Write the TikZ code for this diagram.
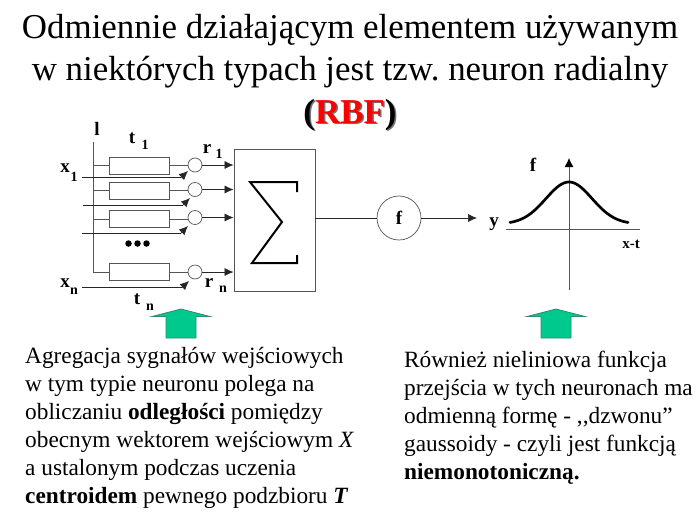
\documentclass[tikz,border=0pt]{standalone}
\usepackage{fontspec}
\setmainfont{Liberation Serif}
\usetikzlibrary{arrows.meta,calc}
\definecolor{arrowgreen}{HTML}{00C98D}
\definecolor{arrowedge}{HTML}{2E8B70}
\definecolor{linegray}{HTML}{555555}
\tikzset{
  x=1pt,y=-1pt,
  titletext/.style={anchor=base,inner sep=0pt,font=\fontsize{34.9}{35}\selectfont},
  bodytext/.style={anchor=base west,inner sep=0pt,font=\fontsize{23.3}{24}\selectfont},
  symb/.style={anchor=base,inner sep=0pt,font=\fontsize{19}{19}\selectfont\bfseries},
  sub/.style={anchor=base,inner sep=0pt,font=\fontsize{14}{14}\selectfont\bfseries},
  wbox/.style={draw=linegray,line width=0.8pt,minimum width=60pt,minimum height=17pt,inner sep=0pt},
  rcirc/.style={draw=linegray,line width=0.7pt,circle,minimum size=14pt,inner sep=0pt},
  wire/.style={draw=black!85,line width=0.7pt},
  graywire/.style={draw=linegray,line width=0.9pt},
  tip/.style={-{Latex[length=9pt,width=8pt]}},
  bigarrow/.style={draw=arrowedge,fill=arrowgreen,line width=0.8pt},
}
\frenchspacing
\begin{document}
\begin{tikzpicture}
\useasboundingbox (0,0) rectangle (700,525);
\fill[white] (0,0) rectangle (700,525);
% title
\node[titletext] (t1) at (350,38) {Odmiennie działającym elementem używanym};
\node[titletext] (t2) at (350,80) {w niektórych typach jest tzw. neuron radialny};
\node[titletext,black!55,font=\fontsize{34.9}{35}\selectfont\bfseries] (t3s) at (351.5,124.5) {(RBF)};
\node[titletext,font=\fontsize{34.9}{35}\selectfont\bfseries] (t3) at (350,123) {(\textcolor{red}{RBF})};
% bus
\coordinate (bustop) at (93,142);
\coordinate (busbot) at (93,272);
\draw[graywire] (bustop) -- (busbot);
% weight boxes
\node[wbox] (b1) at (139,165.5) {};
\node[wbox] (b2) at (139,190.5) {};
\node[wbox] (b3) at (139,219) {};
\node[wbox] (b4) at (139,272) {};
% comparators
\node[rcirc] (c1) at (195,165) {};
\node[rcirc] (c2) at (195,189.5) {};
\node[rcirc] (c3) at (195,217.5) {};
\node[rcirc] (c4) at (195,272) {};
% sum
\node[draw=linegray,line width=0.8pt,minimum width=81pt,minimum height=142pt,inner sep=0pt] (sum) at (274.5,220) {};
\draw[line width=2pt,miter limit=10] (297,192) -- (297,182) -- (250,182) -- (282,222) -- (252,263) -- (297,263) -- (297,255);
% bus taps and box outputs
\foreach \b/\c in {b1/c1,b2/c2,b3/c3,b4/c4}{
  \draw[graywire] (\b.west) -- (\b.west -| bustop);
  \draw[graywire] (\b.east) -- (\c.west |- \b.east);
}
% outputs to sum
\foreach \c in {c1,c2,c3,c4}{
  \draw[wire,tip] (\c.east) -- (\c.east -| sum.west);
}
% inputs
\coordinate (i1) at (82,177.5); \coordinate (e1) at (181,177.5); \coordinate (h1) at (188,171);
\coordinate (i2) at (83,205); \coordinate (e2) at (183,205); \coordinate (h2) at (190,198);
\coordinate (i3) at (82,233); \coordinate (e3) at (181,233); \coordinate (h3) at (188,226);
\coordinate (i4) at (82,287.5); \coordinate (e4) at (182,287.5); \coordinate (h4) at (189,281);
\foreach \n in {1,2,3,4}{
  \draw[wire] (i\n) -- (e\n);
  \draw[wire,tip] (e\n) -- (h\n);
}
% dots
\node[circle,fill=black,inner sep=0pt,minimum size=6.5pt] (d1) at (128.5,243.5) {};
\node[circle,fill=black,inner sep=0pt,minimum size=6.5pt] (d2) at (137.5,243.5) {};
\node[circle,fill=black,inner sep=0pt,minimum size=6.5pt] (d3) at (146.5,243.5) {};
% labels
\node[symb] (l1) at (97,135) {l};
\node[symb] (lt1) at (132,143) {t};
\node[sub] (lt1s) at (145,149) {1};
\node[symb] (lr1) at (207,153) {r};
\node[sub] (lr1s) at (219,158) {1};
\node[symb] (lx1) at (65,172) {x};
\node[sub] (lx1s) at (74,181) {1};
\node[symb] (lxn) at (65,287) {x};
\node[sub] (lxns) at (74,294) {n};
\node[symb] (lrn) at (209,287) {r};
\node[sub] (lrns) at (223,292) {n};
\node[symb] (ltn) at (137,304) {t};
\node[sub] (ltns) at (150,310) {n};
% activation
\node[draw=linegray,line width=0.7pt,circle,minimum size=44pt,inner sep=0pt,font=\fontsize{19}{19}\selectfont\bfseries] (f) at (399,218) {f};
\draw[wire] (sum.east |- f.west) -- (f.west);
\coordinate (fout) at (477,218);
\draw[wire,tip] (f.east) -- (fout);
\node[symb,font=\fontsize{19}{19}\selectfont\bfseries] (ly) at (494,226) {y};
% plot
\coordinate (vb) at (569,290); \coordinate (vt) at (569,158);
\coordinate (hl) at (506,229); \coordinate (hr) at (640,229);
\draw[graywire,line width=0.8pt,-{Latex[length=9pt,width=9pt,color=black]}] (vb) -- (vt);
\draw[graywire,line width=0.8pt] (hl) -- (hr);
\draw[line width=2.7pt,domain=-59:59,samples=60,smooth,line cap=round] plot (\x+569,{224-42*exp(-(\x*\x)/(2*23*23))});
\node[symb] (lf) at (533,171) {f};
\node[symb,font=\fontsize{15}{15}\selectfont\bfseries] (lxt) at (631,248) {x-t};
% green arrows
\draw[bigarrow] (181,309) -- (210,316.5) -- (196,316.5) -- (196,338) -- (166,338) -- (166,316.5) -- (152,316.5) -- cycle;
\draw[bigarrow] (556,309) -- (585,316.5) -- (571,316.5) -- (571,338) -- (541,338) -- (541,316.5) -- (527,316.5) -- cycle;
% left text
\node[bodytext] (a1) at (25,363) {Agregacja sygnałów wejściowych};
\node[bodytext] (a2) at (25,391) {w tym typie neuronu polega na};
\node[bodytext] (a3) at (25,419) {obliczaniu \textbf{odległości} pomiędzy};
\node[bodytext] (a4) at (25,447) {obecnym wektorem wejściowym \textit{X}};
\node[bodytext] (a5) at (25,475) {a ustalonym podczas uczenia};
\node[bodytext] (a6) at (25,503) {\textbf{centroidem} pewnego podzbioru \textbf{\textit{T}}};
% right text
\node[bodytext] (r1) at (404,367) {Również nieliniowa funkcja};
\node[bodytext] (r2) at (404,395) {przejścia w tych neuronach ma};
\node[bodytext] (r3) at (404,423) {odmienną formę - ,{},dzwonu''};
\node[bodytext] (r4) at (404,451) {gaussoidy - czyli jest funkcją};
\node[bodytext] (r5) at (404,479) {\textbf{niemonotoniczną.}};
\end{tikzpicture}
\end{document}
